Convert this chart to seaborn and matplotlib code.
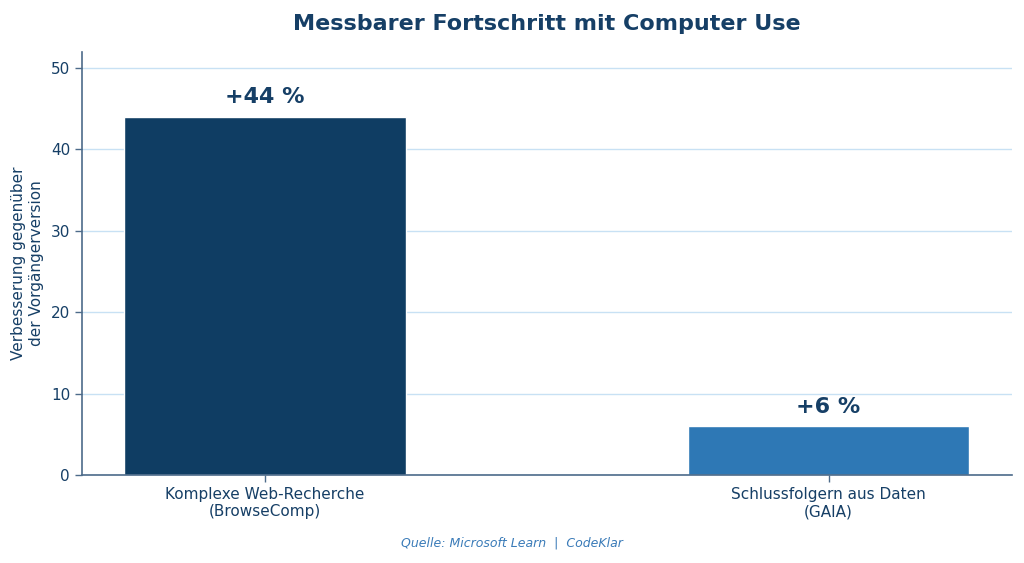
import matplotlib
matplotlib.use("Agg")
import matplotlib.pyplot as plt
import seaborn as sns
import pandas as pd

# Daten
categories = ["Komplexe Web-Recherche\n(BrowseComp)", "Schlussfolgern aus Daten\n(GAIA)"]
values = [44, 6]
labels = ["+44 %", "+6 %"]
bar_colors = ["#0f3d63", "#2e78b5"]

dark = "#163f66"
grid_col = "#c8e1f4"
spine_col = "#4d6b8a"

sns.set_theme(style="white")
plt.rcParams["font.family"] = ["DejaVu Sans"]

df = pd.DataFrame({"cat": categories, "val": values})

fig = plt.figure(figsize=(10.24, 5.63), dpi=100)
ax = fig.add_axes([0.080, 0.156, 0.908, 0.752])

sns.barplot(data=df, x="cat", y="val", hue="cat", palette=bar_colors,
            width=0.5, legend=False, ax=ax, saturation=1)

for i, (v, lab) in enumerate(zip(values, labels)):
    ax.text(i, v + 1.2, lab, ha="center", va="bottom", fontsize=16,
            fontweight="bold", color=dark)

ax.set_ylim(0, 52)
ax.set_xlim(-0.325, 1.325)
ax.set_yticks([0, 10, 20, 30, 40, 50])
ax.yaxis.grid(True, color=grid_col, linewidth=1)
ax.set_axisbelow(True)

for s in ["top", "right"]:
    ax.spines[s].set_visible(False)
for s in ["left", "bottom"]:
    ax.spines[s].set_color(spine_col)
    ax.spines[s].set_linewidth(1.2)

ax.tick_params(axis="both", colors=spine_col, labelcolor=dark, labelsize=11,
               length=5, width=1, left=True, bottom=True)
ax.set_xlabel("")
ax.set_ylabel("Verbesserung gegenüber\nder Vorgängerversion", fontsize=11,
              color=dark, labelpad=5)
ax.set_title("Messbarer Fortschritt mit Computer Use", fontsize=16,
             fontweight="bold", color=dark, pad=16)

fig.text(0.5, 0.03, "Quelle: Microsoft Learn  |  CodeKlar", ha="center",
         fontsize=9, style="italic", color="#3a7bb8")

fig.savefig("out.png", dpi=100)
